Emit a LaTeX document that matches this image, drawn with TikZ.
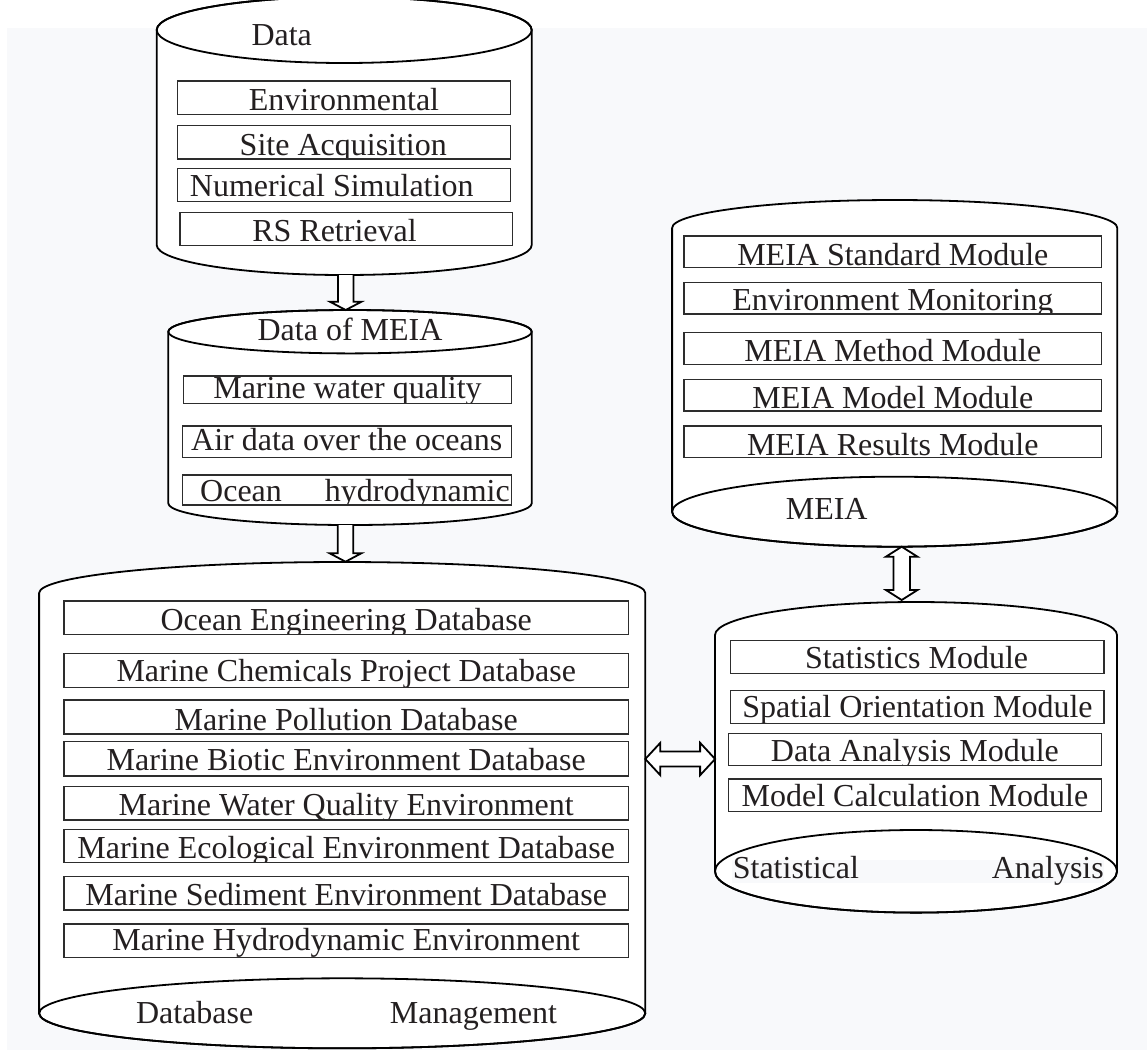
\documentclass[tikz,border=0pt]{standalone}
\usepackage{fontspec}
\setmainfont{Liberation Serif}
\definecolor{bgc}{RGB}{248,249,251}
\definecolor{ink}{RGB}{35,31,32}
\definecolor{boxc}{RGB}{45,45,45}
\tikzset{
  cylfill/.style={draw=black, line width=1.8pt, fill=white, line join=round},
  cylln/.style={draw=black, line width=1.8pt},
  boxln/.style={draw=boxc, line width=1.3pt},
  txt/.style={anchor=base, inner sep=0pt, font=\fontsize{32}{38}\selectfont, text=ink},
  blk/.style={draw=black, line width=1.8pt, fill=white, line join=miter},
}
% box with clipped text: name, x1, y1, x2, y2, text x, baseline y, text
\newcommand\tbox[8]{%
  \begin{scope}
    \clip (#2,#3) rectangle (#4,#5);
    \node[txt] (#1) at (#6,#7) {#8};
  \end{scope}
  \draw[boxln] (#2,#3) rectangle (#4,#5);
}
% cylinder: full top ellipse, lower bottom arc. cx, rx, top cy, top ry, bottom cy, bottom ry
\newcommand\cylTop[6]{%
  \path[cylfill] (#1-#2,#3) -- (#1-#2,#5) arc[start angle=180,end angle=360,x radius=#2pt,y radius=#6pt]
     -- (#1+#2,#3) arc[start angle=0,end angle=180,x radius=#2pt,y radius=#4pt] -- cycle;
  \draw[cylln] (#1,#3) ellipse[x radius=#2pt, y radius=#4pt];
}
% cylinder: upper top arc, full bottom ellipse
\newcommand\cylBot[6]{%
  \path[cylfill] (#1-#2,#3) arc[start angle=180,end angle=0,x radius=#2pt,y radius=#4pt]
     -- (#1+#2,#5) arc[start angle=0,end angle=-180,x radius=#2pt,y radius=#6pt] -- cycle;
  \draw[cylln] (#1,#5) ellipse[x radius=#2pt, y radius=#6pt];
}
\begin{document}
\begin{tikzpicture}[x=1pt,y=-1pt]
\useasboundingbox (0,0) rectangle (1147,1050);
\fill[white] (0,0) rectangle (1147,1050);
\fill[bgc] (6.7,28.3) rectangle (1147,1050);

% ---------- cylinders ----------
\cylTop{344.2}{187.5}{30}{33}{245}{30}
\cylTop{350}{181.7}{331.7}{21.7}{503.3}{21.7}
\cylBot{342.2}{303.1}{593}{31}{1013.3}{35}
\cylBot{894.7}{222.6}{228}{28}{511.7}{35}
\cylBot{916}{201}{635}{33}{871.3}{41.3}

% ---------- Data ----------
\node[txt] (tData) at (281.7,45) {Data};
\tbox{env}{177.3}{81}{510.7}{114.3}{344}{110.3}{Environmental}
\tbox{site}{177.3}{125.7}{510.7}{159}{343.3}{155}{Site Acquisition}
\tbox{num}{177.3}{168.3}{510.7}{201.7}{331.7}{196.7}{Numerical Simulation}
\tbox{rs}{180}{212.3}{512.7}{245.7}{334.5}{241.7}{RS Retrieval}

% ---------- Data of MEIA ----------
\node[txt] (tDataMEIA) at (350,340.7) {Data of MEIA};
\tbox{mwq}{183.3}{376}{511.7}{403.3}{347.5}{398.3}{Marine water quality}
\tbox{air}{182.3}{426}{511.7}{457.3}{346.7}{450}{Air data over the oceans}
\begin{scope}
  \clip (182.3,475) rectangle (511.7,505);
  \node[txt, anchor=base west] (ocean) at (200,501.7) {Ocean};
  \node[txt, anchor=base east] (hydro) at (510,501.7) {hydrodynamic};
\end{scope}
\draw[boxln] (182.3,475) rectangle (511.7,505);

% ---------- Database Management ----------
\tbox{db1}{64}{601}{628.4}{634.3}{346.2}{630}{Ocean Engineering Database}
\tbox{db2}{64}{653.3}{628.4}{687.3}{346.2}{681.7}{Marine Chemicals Project Database}
\tbox{db3}{64}{700}{628.4}{734}{346.2}{730}{Marine Pollution Database}
\tbox{db4}{64}{741.7}{628.4}{776}{346.2}{770.7}{Marine Biotic Environment Database}
\tbox{db5}{64}{786.7}{628.4}{820}{346.2}{815}{Marine Water Quality Environment}
\tbox{db6}{64}{829.3}{628.4}{862.7}{346.2}{858.3}{Marine Ecological Environment Database}
\tbox{db7}{64}{876.7}{628.4}{910}{346.2}{905}{Marine Sediment Environment Database}
\tbox{db8}{64}{924}{628.4}{957.7}{346.2}{950}{Marine Hydrodynamic Environment}
\node[txt] (tDatabase) at (194.7,1023.3) {Database};
\node[txt] (tManagement) at (473.5,1023.3) {Management};

% ---------- MEIA ----------
\tbox{m1}{684}{236}{1101.7}{267.3}{892.8}{265}{MEIA Standard Module}
\tbox{m2}{684}{282.7}{1101.7}{314}{892.8}{310}{Environment Monitoring}
\tbox{m3}{684}{332.7}{1101.7}{364.3}{892.8}{361.7}{MEIA Method Module}
\tbox{m4}{684}{379.3}{1101.7}{411}{892.8}{408.3}{MEIA Model Module}
\tbox{m5}{684}{426}{1101.7}{457.7}{892.8}{455}{MEIA Results Module}
\node[txt] (tMEIA) at (826.7,519) {MEIA};

% ---------- Statistical Analysis ----------
\tbox{s1}{730.8}{640.7}{1104.1}{673.3}{916.6}{668.3}{Statistics Module}
\tbox{s2}{730.8}{690.7}{1104.1}{723.3}{917.5}{717.3}{Spatial Orientation Module}
\tbox{s3}{728.4}{733.3}{1101.3}{765.7}{914.9}{761.7}{Data Analysis Module}
\tbox{s4}{728.4}{779}{1101.3}{811.7}{914.9}{806}{Model Calculation Module}
\fill[bgc] (732,860) rectangle (1104,883);
\node[txt, anchor=base west] (tStatistical) at (732.6,878.3) {Statistical};
\node[txt, anchor=base east] (tAnalysis) at (1104,878.3) {Analysis};

% ---------- arrows ----------
\coordinate (a1s) at (345.7,275);
\coordinate (a1t) at (345.7,310);
\draw[blk] (a1s) ++(-7.7,0) -- ++(0,26.7) -- ++(-8.1,0) -- (a1t) -- ++(15.8,-8.3) -- ++(-8.1,0) -- ++(0,-26.7);

\coordinate (a2s) at (345.5,525);
\coordinate (a2t) at (345.5,561.7);
\draw[blk] (a2s) ++(-7.7,0) -- ++(0,28.3) -- ++(-8.1,0) -- (a2t) -- ++(15.8,-8.4) -- ++(-8.1,0) -- ++(0,-28.3);

\coordinate (v1) at (901.7,546.7);
\coordinate (v2) at (901.7,600);
\draw[blk] (v1) -- ++(15.8,10) -- ++(-7.5,0) -- ++(0,33.3) -- ++(7.5,0) -- (v2)
  -- ++(-15.8,-10) -- ++(7.5,0) -- ++(0,-33.3) -- ++(-7.5,0) -- cycle;

\coordinate (h1) at (645.3,759);
\coordinate (h2) at (715.1,759);
\draw[blk] (h1) -- ++(15,-16.2) -- ++(0,8.7) -- ++(39.8,0) -- ++(0,-8.7) -- (h2)
  -- ++(-15,16.2) -- ++(0,-8.7) -- ++(-39.8,0) -- ++(0,8.7) -- cycle;
\end{tikzpicture}
\end{document}
